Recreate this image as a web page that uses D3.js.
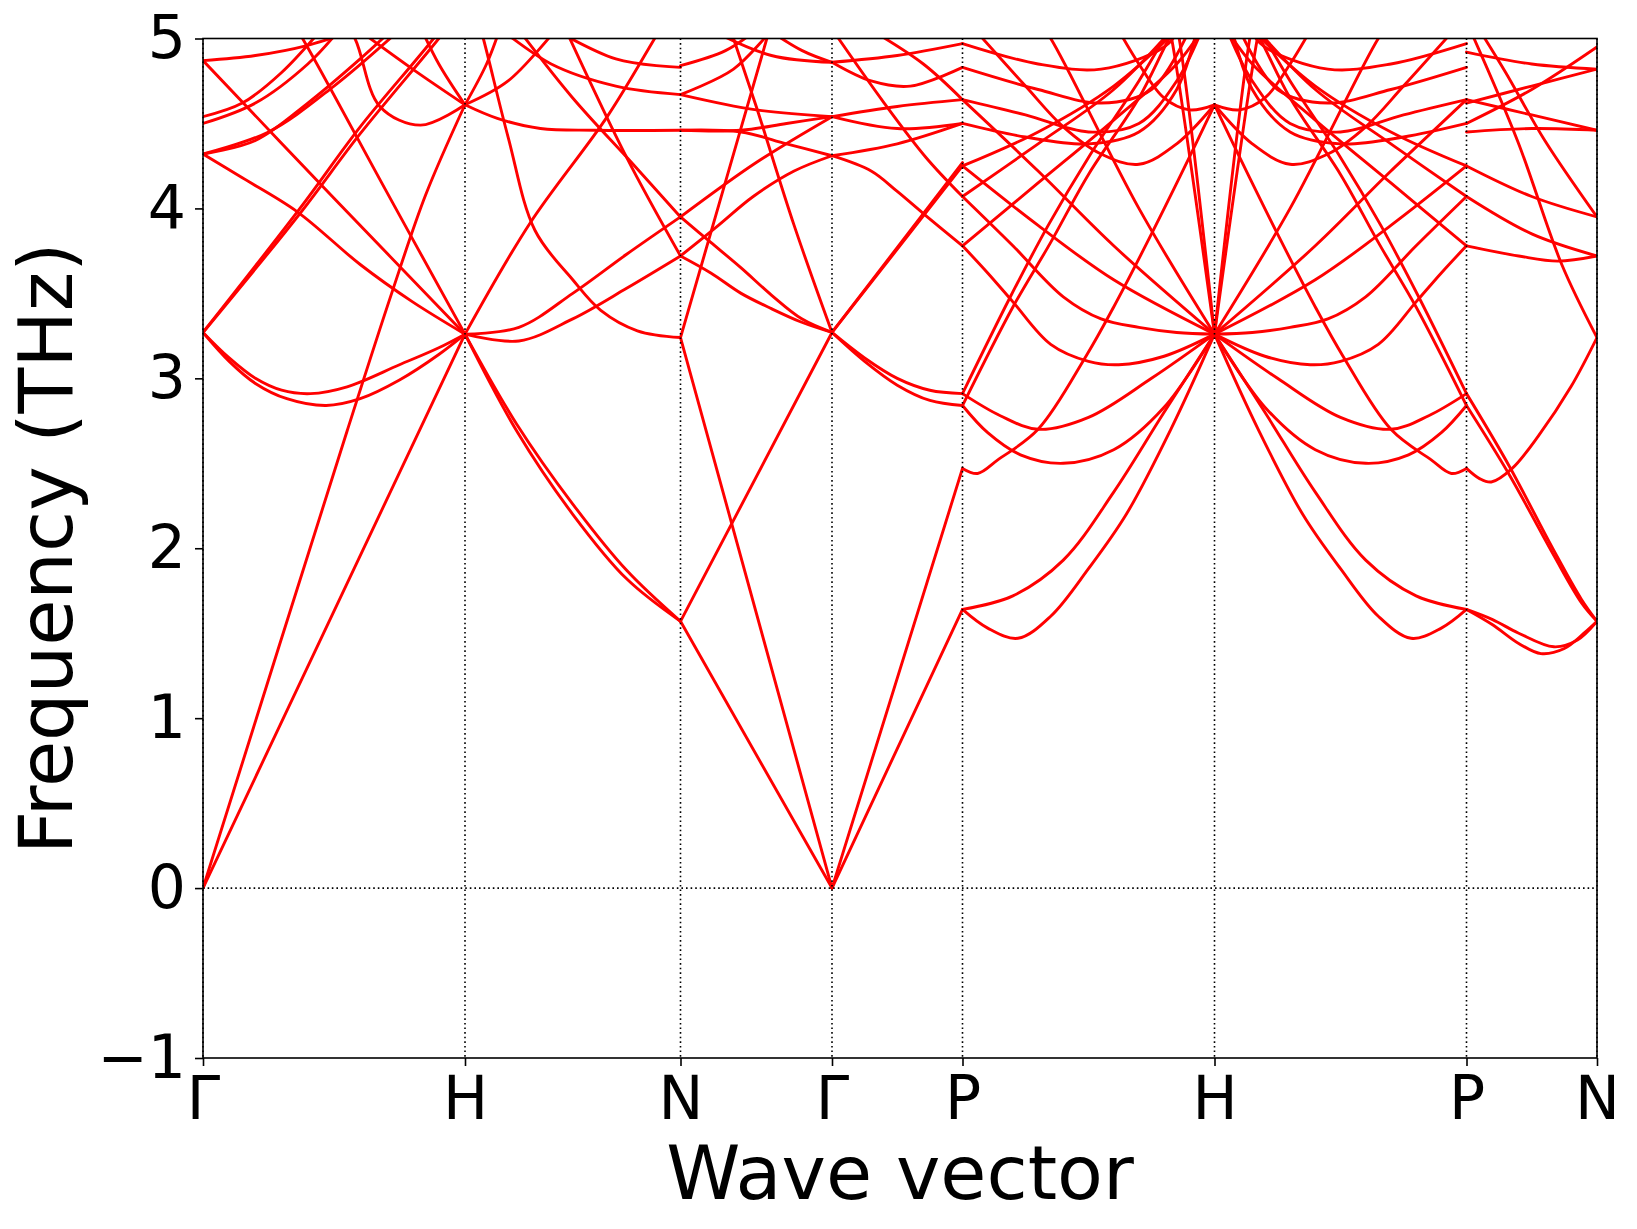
<!DOCTYPE html>
<html><head><meta charset="utf-8">
<script src="https://cdn.jsdelivr.net/npm/d3@7"></script>
<style>html,body{margin:0;padding:0;background:#fff;} svg{display:block;font-family:"DejaVu Sans",sans-serif;}</style>
</head><body><svg id="chart" width="1637" height="1229"></svg>
<script>
// ---- data ----
const qpointLabels = ["Γ","H","N","Γ","P","H","P","N"];
const qpointDist = [0, 0.262, 0.4775, 0.629, 0.7595, 1.0115, 1.2635, 1.394];
const yTicks = [-1, 0, 1, 2, 3, 4, 5];
// each band: list of [fraction along segment, frequency THz]
const bandsGH = [
 [[0,0],[1,3.26]],
 [[0,0],[0.55,2.69],[0.72,3.5],[0.85,4.08],[1,4.61]],
 [[0,3.27],[0.1,3.12],[0.2,3.0],[0.3,2.93],[0.41,2.91],[0.55,2.95],[0.75,3.08],[0.9,3.18],[1,3.26]],
 [[0,3.27],[0.1,3.1],[0.2,2.97],[0.32,2.88],[0.47,2.84],[0.6,2.88],[0.75,2.99],[0.9,3.14],[1,3.26]],
 [[0,3.27],[0.37,3.97],[0.6,4.44],[0.9,5.0],[1,5.2]],
 [[0,3.27],[0.37,4.0],[0.6,4.48],[0.88,5.0],[1,5.25]],
 [[0,4.32],[0.15,4.18],[0.36,3.98],[0.6,3.67],[0.8,3.45],[1,3.26]],
 [[0,4.87],[0.5,4.06],[1,3.26]],
 [[0.3,5.2],[0.38,5.0],[0.7,4.1],[1,3.26]],
 [[0,4.87],[0.2,4.9],[0.4,4.96],[0.6,5.06]],
 [[0,4.54],[0.15,4.62],[0.3,4.8],[0.45,5.05]],
 [[0,4.5],[0.2,4.62],[0.4,4.85],[0.52,5.05]],
 [[0,4.32],[0.2,4.4],[0.4,4.62],[0.6,4.88],[0.72,5.05]],
 [[0,4.32],[0.25,4.45],[0.5,4.72],[0.75,5.05]],
 [[0.5,5.2],[0.58,5.0],[0.675,4.6],[0.83,4.49],[1,4.61]],
 [[0.55,5.1],[0.8,4.82],[1,4.61]],
 [[0.82,5.1],[0.9,4.85],[1,4.61]]
];
const bandsHN = [
 [[0,3.26],[0.24,2.69],[0.5,2.2],[0.75,1.82],[1,1.57]],
 [[0,3.26],[0.24,2.73],[0.5,2.26],[0.75,1.87],[1,1.57]],
 [[0,3.26],[0.25,3.22],[0.5,3.35],[0.75,3.53],[1,3.72]],
 [[0,3.26],[0.25,3.3],[0.5,3.5],[0.75,3.73],[1,3.95]],
 [[0,3.26],[0.3,3.91],[0.66,4.54],[0.88,5.0],[0.95,5.15]],
 [[0.04,5.2],[0.085,5.0],[0.2,4.42],[0.325,3.87],[0.5,3.58],[0.63,3.4],[0.8,3.28],[1,3.24]],
 [[0,4.61],[0.15,4.53],[0.35,4.47],[0.6,4.46],[1,4.46]],
 [[0.12,5.1],[0.4,4.85],[0.7,4.72],[1,4.67]],
 [[0.35,5.1],[0.7,4.88],[1,4.83]],
 [[0,4.61],[0.1,4.85],[0.16,5.05]],
 [[0,4.61],[0.2,4.75],[0.42,5.05]],
 [[0.25,5.05],[0.5,4.65],[0.78,4.26],[1,3.95]],
 [[0.45,5.1],[0.75,4.3],[1,3.72]]
];
const bandsNG = [
 [[0,1.57],[1,0]],
 [[0,3.24],[1,0]],
 [[0,1.57],[1,3.27]],
 [[0,3.24],[0.57,5.0],[0.65,5.25]],
 [[0,3.95],[0.2,3.8],[0.4,3.65],[0.6,3.49],[0.8,3.35],[1,3.27]],
 [[0,3.72],[0.2,3.62],[0.4,3.5],[0.6,3.41],[0.8,3.33],[1,3.27]],
 [[0,3.72],[0.25,3.9],[0.48,4.07],[0.75,4.22],[1,4.31]],
 [[0,3.95],[0.5,4.27],[1,4.54]],
 [[0.28,5.2],[0.35,5.0],[0.5,4.6],[0.75,3.9],[1,3.27]],
 [[0,4.46],[0.4,4.46],[0.7,4.5],[1,4.54]],
 [[0,4.46],[0.4,4.45],[0.7,4.38],[1,4.31]],
 [[0,4.84],[0.3,4.93],[0.5,5.05]],
 [[0.2,5.05],[0.6,4.9],[1,4.86]],
 [[0,4.67],[0.5,4.58],[1,4.54]],
 [[0,4.67],[0.35,4.82],[0.6,5.05]],
 [[0.5,5.1],[0.8,4.93],[1,4.86]]
];
const bandsGP = [
 [[0,0],[1,1.64]],
 [[0,0],[1,2.47]],
 [[0,3.27],[0.25,3.12],[0.5,3.0],[0.75,2.93],[1,2.91]],
 [[0,3.27],[0.25,3.1],[0.5,2.96],[0.75,2.87],[1,2.84]],
 [[0,3.27],[1,4.25]],
 [[0,3.27],[1,4.27]],
 [[0,4.31],[0.3,4.22],[0.5,4.1],[0.7,3.97],[1,3.78]],
 [[0,4.54],[0.5,4.6],[1,4.64]],
 [[0,4.54],[0.5,4.47],[1,4.5]],
 [[0,4.31],[0.5,4.38],[1,4.5]],
 [[0,4.86],[0.5,4.9],[1,4.97]],
 [[0.05,5.0],[0.4,4.62],[0.72,4.3],[1,4.07]],
 [[0,4.86],[0.3,4.75],[0.6,4.72],[1,4.83]],
 [[0.3,5.05],[0.7,4.85],[1,4.64]]
];
// P -> H (the H -> P segment is its mirror image)
const bandsPH = [
 [[0,1.64],[0.1,1.53],[0.22,1.47],[0.35,1.6],[0.5,1.88],[0.65,2.2],[0.83,2.71],[1,3.26]],
 [[0,1.64],[0.2,1.72],[0.4,1.93],[0.6,2.33],[0.8,2.8],[1,3.26]],
 [[0,2.84],[0.1,2.68],[0.23,2.55],[0.4,2.5],[0.6,2.58],[0.8,2.83],[1,3.26]],
 [[0,2.91],[0.15,2.78],[0.3,2.7],[0.5,2.77],[0.75,3.0],[1,3.26]],
 [[0,3.78],[0.1,3.62],[0.2,3.45],[0.35,3.2],[0.5,3.1],[0.62,3.08],[0.8,3.13],[1,3.26]],
 [[0,4.07],[0.2,3.78],[0.4,3.48],[0.55,3.35],[0.7,3.3],[0.85,3.27],[1,3.26]],
 [[0,4.25],[0.3,3.9],[0.6,3.58],[1,3.26]],
 [[0,4.64],[0.3,4.22],[0.6,3.78],[1,3.26]],
 [[0.3,5.1],[0.35,5.0],[0.7,4.0],[1,3.26]],
 [[0.8,5.2],[0.83,5.0],[1,3.26]],
 [[0.83,5.2],[0.86,5.0],[1,3.26]],
 [[0,2.47],[0.06,2.44],[0.14,2.52],[0.3,2.7],[0.49,3.13],[0.6,3.42],[0.75,3.85],[0.9,4.3],[1,4.61]],
 [[0,2.91],[0.19,3.48],[0.34,3.9],[0.5,4.3],[0.7,4.75],[0.8,5.0],[0.85,5.12]],
 [[0,2.84],[0.2,3.42],[0.35,3.8],[0.5,4.2],[0.7,4.65],[0.82,5.0],[0.87,5.12]],
 [[0,3.78],[0.3,4.15],[0.6,4.52],[0.85,4.85],[0.95,5.05]],
 [[0,4.25],[0.3,4.45],[0.6,4.72],[0.85,5.05]],
 [[0,4.07],[0.3,4.38],[0.6,4.7],[0.83,5.05]],
 [[0.6,5.1],[0.7,4.85],[0.8,4.65],[0.9,4.58],[1,4.61]],
 [[0.05,5.05],[0.25,4.72],[0.4,4.48],[0.55,4.32],[0.7,4.26],[0.85,4.38],[1,4.61]],
 [[0,4.64],[0.25,4.55],[0.5,4.45],[0.7,4.5],[0.85,4.75],[0.95,5.05]],
 [[0,4.5],[0.25,4.42],[0.5,4.38],[0.7,4.45],[0.85,4.7],[0.93,5.05]],
 [[0,4.83],[0.3,4.7],[0.55,4.62],[0.75,4.7],[0.9,5.05]],
 [[0,4.97],[0.3,4.85],[0.55,4.82],[0.8,4.95],[0.86,5.05]]
];
const bandsPN = [
 [[0,1.64],[0.2,1.55],[0.4,1.44],[0.57,1.38],[0.75,1.41],[0.9,1.5],[1,1.57]],
 [[0,1.64],[0.2,1.58],[0.4,1.5],[0.67,1.42],[0.85,1.46],[1,1.57]],
 [[0,2.47],[0.1,2.41],[0.19,2.39],[0.35,2.47],[0.55,2.66],[0.8,2.95],[1,3.24]],
 [[0,2.91],[0.33,2.48],[0.66,2.0],[0.88,1.7],[1,1.57]],
 [[0,2.84],[0.33,2.43],[0.66,1.97],[0.88,1.68],[1,1.57]],
 [[0,3.78],[0.4,3.72],[0.7,3.69],[1,3.72]],
 [[0,4.25],[0.5,4.07],[1,3.95]],
 [[0,4.07],[0.5,3.85],[1,3.72]],
 [[0,5.1],[0.39,4.4],[0.73,3.67],[1,3.24]],
 [[0.1,5.05],[0.3,4.8],[0.6,4.4],[1,3.95]],
 [[0,4.45],[0.5,4.47],[1,4.46]],
 [[0,4.64],[0.5,4.55],[1,4.46]],
 [[0,4.62],[0.5,4.72],[1,4.82]],
 [[0,4.92],[0.5,4.85],[1,4.82]],
 [[0,4.5],[0.5,4.7],[1,4.95]]
];
const bandsHP = bandsPH.map(b => b.map(([t, f]) => [1 - t, f]).reverse());
const segmentBands = [bandsGH, bandsHN, bandsNG, bandsGP, bandsPH, bandsHP, bandsPN];

// ---- chart ----
const svg = d3.select("#chart");
const x = d3.scaleLinear().domain([0, qpointDist[qpointDist.length - 1]]).range([203, 1597]);
const y = d3.scaleLinear().domain([-1, 5]).range([1058, 38.5]);

svg.append("defs").append("clipPath").attr("id", "clip")
  .append("rect").attr("x", x(0)).attr("y", y(5))
  .attr("width", x.range()[1] - x.range()[0]).attr("height", y(-1) - y(5));

const line = d3.line().x(d => x(d[0])).y(d => y(d[1])).curve(d3.curveCatmullRom.alpha(0.5));
const gBands = svg.append("g").attr("clip-path", "url(#clip)");
segmentBands.forEach((bands, s) => {
  const d0 = qpointDist[s], d1 = qpointDist[s + 1];
  bands.forEach(b => {
    gBands.append("path")
      .datum(b.map(([t, f]) => [d0 + t * (d1 - d0), f]))
      .attr("d", line).attr("fill", "none").attr("stroke", "#ff0000")
      .attr("stroke-width", 2.9).attr("stroke-linejoin", "round").attr("stroke-linecap", "round");
  });
});

// dotted guide lines
const gGuide = svg.append("g");
qpointDist.forEach(d => {
  gGuide.append("line").attr("x1", x(d)).attr("x2", x(d)).attr("y1", y(5)).attr("y2", y(-1))
    .attr("stroke", "#000").attr("stroke-width", 1.6).attr("stroke-dasharray", "1.6,3");
});
gGuide.append("line").attr("x1", x(0)).attr("x2", x(qpointDist[qpointDist.length - 1]))
  .attr("y1", y(0)).attr("y2", y(0))
  .attr("stroke", "#000").attr("stroke-width", 1.6).attr("stroke-dasharray", "1.6,3");

// axes
const yAxis = d3.axisLeft(y).tickValues(yTicks).tickSize(8).tickPadding(9)
  .tickFormat(d => d < 0 ? "\u2212" + Math.abs(d) : String(d));
const gy = svg.append("g").attr("transform", `translate(${x(0)},0)`).call(yAxis);
const xAxis = d3.axisBottom(x).tickValues(qpointDist).tickSize(8).tickPadding(10)
  .tickFormat((d, i) => qpointLabels[i]);
const gx = svg.append("g").attr("transform", `translate(0,${y(-1)})`).call(xAxis);
[gx, gy].forEach(g => {
  g.select(".domain").remove();
  g.selectAll(".tick line").attr("stroke", "#000").attr("stroke-width", 1.6);
  g.selectAll(".tick text").attr("font-size", 60).attr("fill", "#000")
    .attr("font-family", "'DejaVu Sans', sans-serif");
});

// frame
svg.append("rect").attr("x", x(0)).attr("y", y(5))
  .attr("width", x.range()[1] - x.range()[0]).attr("height", y(-1) - y(5))
  .attr("fill", "none").attr("stroke", "#000").attr("stroke-width", 1.6);

// titles
svg.append("text").attr("x", (x.range()[0] + x.range()[1]) / 2).attr("y", 1199)
  .attr("text-anchor", "middle").attr("font-size", 75).attr("fill", "#000").text("Wave vector");
svg.append("text").attr("transform", `translate(72,${(y(5) + y(-1)) / 2}) rotate(-90)`)
  .attr("text-anchor", "middle").attr("font-size", 75).attr("fill", "#000").text("Frequency (THz)");
</script>
</body></html>
